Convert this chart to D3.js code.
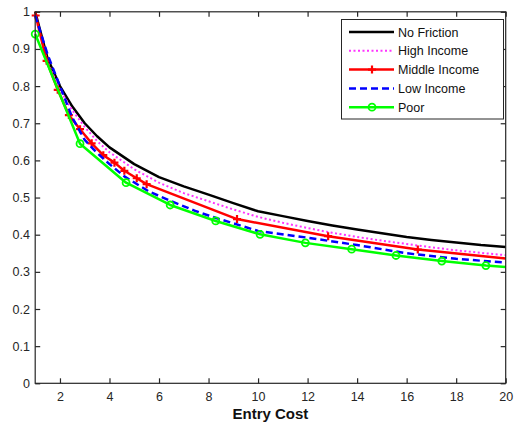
<!DOCTYPE html>
<html><head><meta charset="utf-8">
<script src="https://cdn.jsdelivr.net/npm/d3@7"></script>
<style>body{margin:0;background:#fff;} svg{display:block;font-family:"Liberation Sans",Arial,sans-serif;}</style>
</head><body>
<svg id="c" width="514" height="432"></svg>
<script>
const xTicks = [2,4,6,8,10,12,14,16,18,20];
const yTicks = [0,0.1,0.2,0.3,0.4,0.5,0.6,0.7,0.8,0.9,1];
const yTickLabels = ["0","0.1","0.2","0.3","0.4","0.5","0.6","0.7","0.8","0.9","1"];

const noFrictionX = [1,1.5,2,2.5,3,3.5,4,5,6,7,8,9,10,11,12,13,14,15,16,17,18,19,20];
const noFrictionY = [1.0,0.875,0.80,0.745,0.70,0.665,0.635,0.59,0.555,0.53,0.508,0.485,0.463,0.45,0.437,0.425,0.414,0.404,0.394,0.386,0.379,0.372,0.367];

const highX = [1,1.5,2,2.5,3,3.5,4,5,6,7,8,9,10,11,12,13,14,15,16,17,18,19,20];
const highY = [0.99,0.865,0.79,0.735,0.69,0.652,0.622,0.576,0.54,0.512,0.49,0.468,0.448,0.432,0.418,0.405,0.394,0.384,0.375,0.366,0.358,0.351,0.345];

const middleX = [1.02,1.46,1.91,2.36,2.81,3.28,3.75,4.2,4.6,5.1,5.5,9.15,12.83,16.45,20];
const middleY = [0.99,0.868,0.79,0.722,0.684,0.646,0.614,0.594,0.572,0.552,0.536,0.442,0.396,0.36,0.336];

const lowX = [1,1.5,2,2.5,3,3.5,4,4.6,5.6,6.5,7.5,8.3,10,12,14,16,18,20];
const lowY = [0.99,0.885,0.80,0.715,0.655,0.62,0.59,0.557,0.516,0.49,0.463,0.445,0.41,0.392,0.372,0.35,0.335,0.325];

const poorX = [1.0,2.81,4.67,6.45,8.29,10.08,11.91,13.78,15.57,17.42,19.2,20];
const poorY = [0.94,0.645,0.54,0.48,0.437,0.401,0.378,0.361,0.344,0.329,0.317,0.313];

const seriesNames = ["No Friction","High Income","Middle Income","Low Income","Poor"];
const xLabel = "Entry Cost";

const svg = d3.select("#c");
const L=35.2, R=505.7, T=11.8, B=383.3;
const x = d3.scaleLinear().domain([1,20]).range([L,R]);
const y = d3.scaleLinear().domain([0,1]).range([B,T]);
const axisColor = "#262626";

const zip = (a,b)=>a.map((v,i)=>[v,b[i]]);
const series = [
  {name:seriesNames[0], pts:zip(noFrictionX,noFrictionY), color:"#000000", dash:null, w:2.5, marker:null},
  {name:seriesNames[1], pts:zip(highX,highY), color:"#ff33ff", dash:"2,2.5", w:2, marker:null},
  {name:seriesNames[2], pts:zip(middleX,middleY), color:"#ff0000", dash:null, w:2.5, marker:"plus"},
  {name:seriesNames[3], pts:zip(lowX,lowY), color:"#0000ff", dash:"7,4", w:2.5, marker:null},
  {name:seriesNames[4], pts:zip(poorX,poorY), color:"#00ff00", dash:null, w:2.5, marker:"circle"}
];

const line = d3.line().x(d=>x(d[0])).y(d=>y(d[1]));
const g = svg.append("g");
g.append("clipPath").attr("id","clip").append("rect").attr("x",L).attr("y",T).attr("width",R-L).attr("height",B-T);
const plot = g.append("g").attr("clip-path","url(#clip)");

series.forEach(s=>{
  const sg = g.append("g");
  sg.append("path").datum(s.pts).attr("d",line).attr("fill","none")
    .attr("stroke",s.color).attr("stroke-width",s.w)
    .attr("stroke-dasharray",s.dash).attr("stroke-linejoin","round");
  const mk = s.pts.slice(0,-1);
  if(s.marker==="plus"){
    sg.selectAll(null).data(mk).enter().append("path")
      .attr("d",d=>{const cx=x(d[0]),cy=y(d[1]);return `M${cx-4},${cy}H${cx+4}M${cx},${cy-4}V${cy+4}`;})
      .attr("stroke",s.color).attr("stroke-width",2.2).attr("fill","none");
  } else if(s.marker==="circle"){
    sg.selectAll(null).data(mk).enter().append("circle")
      .attr("cx",d=>x(d[0])).attr("cy",d=>y(d[1])).attr("r",3.5)
      .attr("fill","none").attr("stroke",s.color).attr("stroke-width",1.8);
  }
});

svg.append("rect").attr("x",L).attr("y",T).attr("width",R-L).attr("height",B-T)
  .attr("fill","none").attr("stroke",axisColor).attr("stroke-width",1.2);

const xAxB = d3.axisBottom(x).tickValues(xTicks).tickSizeInner(-5).tickSizeOuter(0).tickPadding(9);
const gx = svg.append("g").attr("transform",`translate(0,${B})`).call(xAxB);
const xAxT = d3.axisTop(x).tickValues(xTicks).tickSizeInner(-5).tickSizeOuter(0).tickFormat("");
const gxt = svg.append("g").attr("transform",`translate(0,${T})`).call(xAxT);
const yAxL = d3.axisLeft(y).tickValues(yTicks).tickSizeInner(-5).tickSizeOuter(0).tickPadding(9)
  .tickFormat((d,i)=>yTickLabels[i]);
const gy = svg.append("g").attr("transform",`translate(${L},0)`).call(yAxL);
const yAxR = d3.axisRight(y).tickValues(yTicks).tickSizeInner(-5).tickSizeOuter(0).tickFormat("");
const gyr = svg.append("g").attr("transform",`translate(${R},0)`).call(yAxR);
[gx,gxt,gy,gyr].forEach(a=>{
  a.select(".domain").remove();
  a.selectAll(".tick line").attr("stroke",axisColor).attr("stroke-width",1.2);
  a.selectAll("text").attr("fill",axisColor).style("font-size","12.5px").style("font-family","'Liberation Sans',Arial,sans-serif");
});
gy.selectAll("text").attr("dx","0.3em");

svg.append("text").attr("x",(L+R)/2).attr("y",419).attr("text-anchor","middle")
  .style("font-size","15px").style("font-weight","bold").attr("fill","#111").text(xLabel);

const lg = svg.append("g");
lg.append("rect").attr("x",341.5).attr("y",19.5).attr("width",162).attr("height",99.5)
  .attr("fill","#fff").attr("stroke",axisColor).attr("stroke-width",1);
series.forEach((s,i)=>{
  const yy = 32 + i*18.8;
  const x0=349, x1=394;
  lg.append("line").attr("x1",x0).attr("x2",x1).attr("y1",yy).attr("y2",yy)
    .attr("stroke",s.color).attr("stroke-width",s.w).attr("stroke-dasharray",s.dash);
  if(s.marker==="plus"){
    const cx=(x0+x1)/2+0.5;
    lg.append("path").attr("d",`M${cx-4},${yy}H${cx+4}M${cx},${yy-4}V${yy+4}`).attr("stroke",s.color).attr("stroke-width",2.2);
  } else if(s.marker==="circle"){
    lg.append("circle").attr("cx",(x0+x1)/2+0.5).attr("cy",yy).attr("r",3.5).attr("fill","none").attr("stroke",s.color).attr("stroke-width",1.8);
  }
  lg.append("text").attr("x",398).attr("y",yy).attr("dy","0.36em")
    .style("font-size","12.5px").attr("fill","#111").text(s.name);
});
</script>
</body></html>
